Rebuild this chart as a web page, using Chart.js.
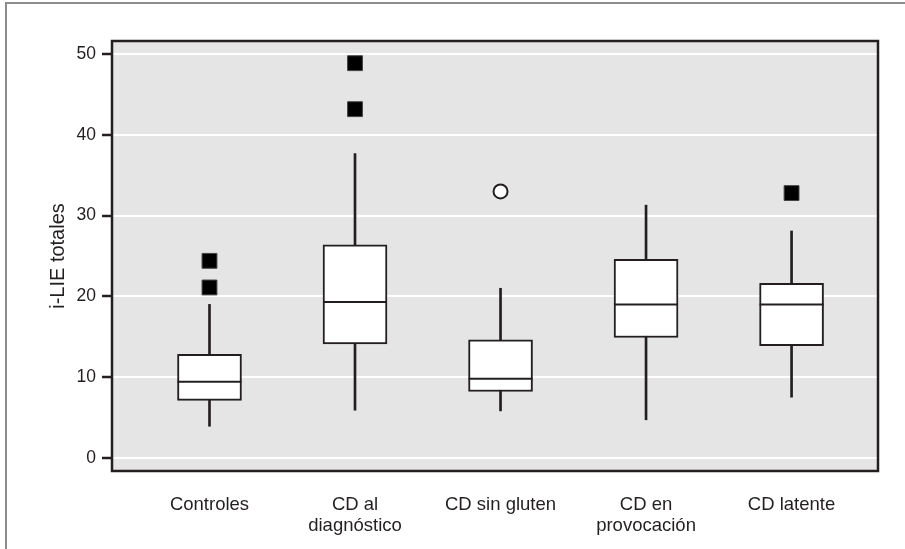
<!DOCTYPE html>
<html>
<head>
<meta charset="utf-8">
<script src="https://cdn.jsdelivr.net/npm/chart.js@4/dist/chart.umd.min.js"></script>
<style>
  html, body { margin: 0; background: #fff; overflow: hidden; width: 905px; height: 549px; }
  #marco { position: absolute; left: 5px; top: 2px; width: 898px; height: 545px;
           border-top: 2px solid #8c8c8c; border-left: 2px solid #8c8c8c; }
  #grafico { position: absolute; left: 0; top: 0; }
</style>
</head>
<body>
<div id="marco"></div>
<canvas id="grafico" width="905" height="549"></canvas>
<script>
var grupos = ['Controles', ['CD al', 'diagnóstico'], 'CD sin gluten', ['CD en', 'provocación'], 'CD latente'];
var bigoteInf = [3.9, 5.9, 5.8, 4.7, 7.5];
var q1 = [7.1, 14.1, 8.2, 14.9, 13.9];
var mediana = [9.4, 19.3, 9.8, 19.0, 19.0];
var q3 = [12.8, 26.4, 14.6, 24.6, 21.6];
var bigoteSup = [19.0, 37.7, 21.0, 31.3, 28.1];
// valores extremos (cuadrados) y atípicos (círculos)
var extremosGrupo = [1, 1, 2, 2, 5];
var extremosValor = [24.4, 21.1, 48.9, 43.2, 32.8];
var atipicosGrupo = [3];
var atipicosValor = [33.0];
var ticksY = [0, 10, 20, 30, 40, 50];

var tinta = '#231f20';

function puntos(xs, ys) {
	return xs.map(function(x, i) { return { x: x, y: ys[i] }; });
}

var datosCaja = grupos.map(function(g, i) { return { x: i + 1, y: [q1[i], q3[i]] }; });
var datosBigote = grupos.map(function(g, i) { return { x: i + 1, y: [bigoteInf[i], bigoteSup[i]] }; });
var datosMediana = grupos.map(function(g, i) { return { x: i + 1, y: mediana[i] }; });

var fondoArea = {
	id: 'fondoArea',
	beforeDraw: function(chart) {
		var a = chart.chartArea, ctx = chart.ctx;
		ctx.save();
		ctx.fillStyle = '#e5e5e5';
		ctx.fillRect(a.left, a.top, a.right - a.left, a.bottom - a.top);
		ctx.restore();
	},
	afterDatasetsDraw: function(chart) {
		var a = chart.chartArea, ctx = chart.ctx;
		ctx.save();
		ctx.strokeStyle = tinta;
		ctx.lineWidth = 2.5;
		ctx.strokeRect(a.left, a.top, a.right - a.left, a.bottom - a.top);
		ctx.restore();
	}
};

new Chart(document.getElementById('grafico').getContext('2d'), {
	type: 'scatter',
	data: {
		datasets: [{
			type: 'bar',
			data: datosBigote,
			backgroundColor: tinta,
			borderWidth: 0,
			barThickness: 2,
			grouped: false,
			order: 4
		}, {
			type: 'bar',
			data: datosCaja,
			backgroundColor: '#ffffff',
			borderColor: tinta,
			borderWidth: 2,
			borderSkipped: false,
			barThickness: 64,
			grouped: false,
			order: 3
		}, {
			data: datosMediana,
			pointStyle: 'line',
			pointRadius: 32,
			borderColor: tinta,
			borderWidth: 2,
			order: 2
		}, {
			data: puntos(extremosGrupo, extremosValor),
			pointStyle: 'rect',
			pointRadius: 10.5,
			backgroundColor: '#000000',
			borderColor: '#444444',
			borderWidth: 1,
			order: 1
		}, {
			data: puntos(atipicosGrupo, atipicosValor),
			pointStyle: 'circle',
			pointRadius: 7,
			backgroundColor: '#ffffff',
			borderColor: tinta,
			borderWidth: 2,
			order: 1
		}]
	},
	options: {
		responsive: false,
		animation: false,
		events: [],
		layout: { autoPadding: false, padding: { left: 0, right: 27, top: 41, bottom: 0 } },
		plugins: { legend: { display: false }, tooltip: { enabled: false } },
		scales: {
			x: {
				type: 'linear',
				min: 0.33,
				max: 5.594,
				offset: false,
				grid: { display: false, offset: false },
				border: { display: false },
				afterBuildTicks: function(axis) {
					axis.ticks = grupos.map(function(g, i) { return { value: i + 1 }; });
				},
				afterFit: function(axis) {
					axis.height = 78;
					axis.paddingLeft = 0;
					axis.paddingRight = 0;
				},
				ticks: {
					autoSkip: false,
					maxRotation: 0,
					padding: 15,
					color: tinta,
					font: { family: 'Liberation Sans, Arial, sans-serif', size: 18.5, lineHeight: 1.15 },
					callback: function(v) { return grupos[v - 1]; }
				}
			},
			y: {
				min: -1.65,
				max: 51.65,
				afterBuildTicks: function(axis) {
					axis.ticks = ticksY.map(function(v) { return { value: v }; });
				},
				afterFit: function(axis) {
					axis.width = 112;
					axis.paddingTop = 0;
					axis.paddingBottom = 0;
				},
				grid: {
					color: '#ffffff',
					lineWidth: 2,
					tickColor: tinta,
					tickLength: 10,
					tickWidth: 2.5
				},
				border: { display: false },
				ticks: {
					padding: 6,
					color: tinta,
					font: { family: 'Liberation Sans, Arial, sans-serif', size: 17.5 }
				},
				title: {
					display: true,
					text: 'i-LIE totales',
					color: tinta,
					padding: { top: 46 },
					font: { family: 'Liberation Sans, Arial, sans-serif', size: 20, lineHeight: 1.2 }
				}
			}
		}
	},
	plugins: [fondoArea]
});
</script>
</body>
</html>
